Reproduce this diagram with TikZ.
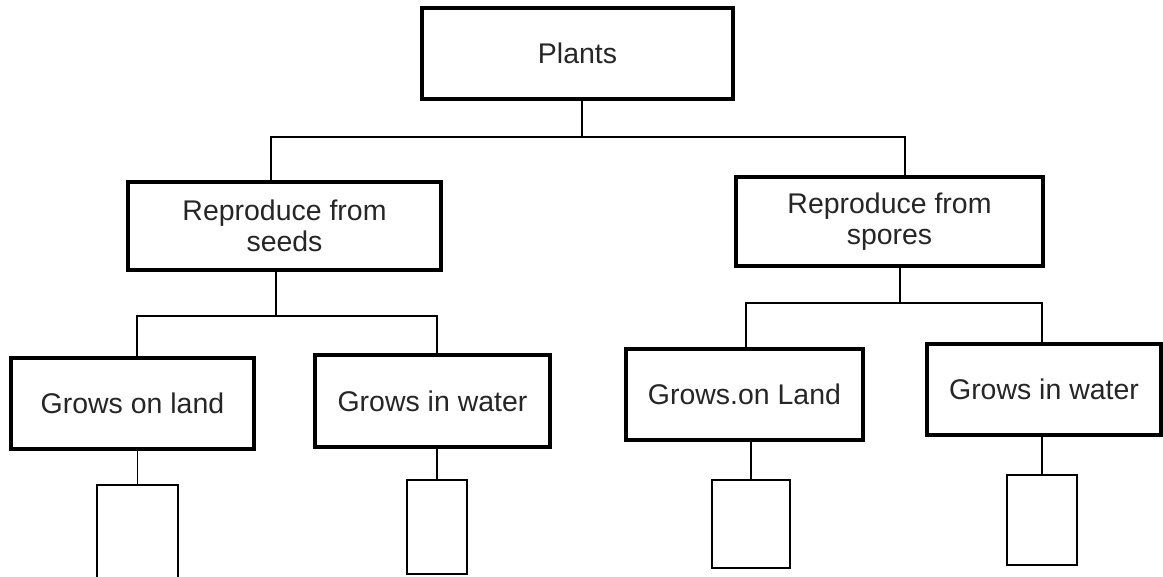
\documentclass[tikz,border=0pt]{standalone}
\usepackage{fontspec}
\setmainfont{Liberation Sans}
\usepackage{tikz}
\tikzset{
  cls/.style={draw,line width=2.3pt,fill=white,align=center,inner sep=0pt,
    font=\fontsize{16.2}{18}\selectfont,text=black!85},
  link/.style={line width=1pt},
  blank/.style={draw,line width=1pt,inner sep=0pt}
}

\begin{document}
\begin{tikzpicture}[x=0.02cm,y=-0.02cm]
\clip (0,0) rectangle (1163,576);
\node[cls,minimum width=6.22cm,minimum height=1.82cm] (plants) at (577.5,53.5) {Plants};
\node[cls,minimum width=6.26cm,minimum height=1.76cm] (seeds) at (284.5,226) {Reproduce from\\seeds};
\node[cls,minimum width=6.14cm,minimum height=1.78cm] (spores) at (889.5,221.5) {Reproduce from\\spores};
\node[cls,minimum width=4.86cm,minimum height=1.82cm] (landA) at (132.5,403.5) {Grows on land};
\node[cls,minimum width=4.70cm,minimum height=1.84cm] (waterA) at (432.5,401) {Grows in water};
\node[cls,minimum width=4.74cm,minimum height=1.82cm] (landB) at (744.5,394.5) {Grows.on Land};
\node[cls,minimum width=4.68cm,minimum height=1.82cm] (waterB) at (1044,389.5) {Grows in water};
\node[blank,minimum width=1.62cm,minimum height=2.1cm] (boxA) at (137.5,537.5) {};
\node[blank,minimum width=1.2cm,minimum height=1.88cm] (boxB) at (437,527) {};
\node[blank,minimum width=1.56cm,minimum height=1.76cm] (boxC) at (751,524) {};
\node[blank,minimum width=1.4cm,minimum height=1.8cm] (boxD) at (1042,520) {};
\coordinate (p0) at (582,137);
\coordinate (p1) at (271,137);
\coordinate (p2) at (905,137);
\coordinate (s0) at (276,316);
\coordinate (s1) at (137,316);
\coordinate (s2) at (437,316);
\coordinate (r0) at (900,303);
\coordinate (r1) at (746,303);
\coordinate (r2) at (1042,303);
\draw[link] (plants.south -| p0) -- (p0);
\draw[link] (seeds.north -| p1) -- (p1) -- (p2) -- (spores.north -| p2);
\draw[link] (seeds.south -| s0) -- (s0);
\draw[link] (landA.north -| s1) -- (s1) -- (s2) -- (waterA.north -| s2);
\draw[link] (spores.south -| r0) -- (r0);
\draw[link] (landB.north -| r1) -- (r1) -- (r2) -- (waterB.north -| r2);
\draw[link] (landA.south -| boxA.north) -- (boxA.north);
\draw[link] (waterA.south -| boxB.north) -- (boxB.north);
\draw[link] (landB.south -| boxC.north) -- (boxC.north);
\draw[link] (waterB.south -| boxD.north) -- (boxD.north);
\end{tikzpicture}
\end{document}
